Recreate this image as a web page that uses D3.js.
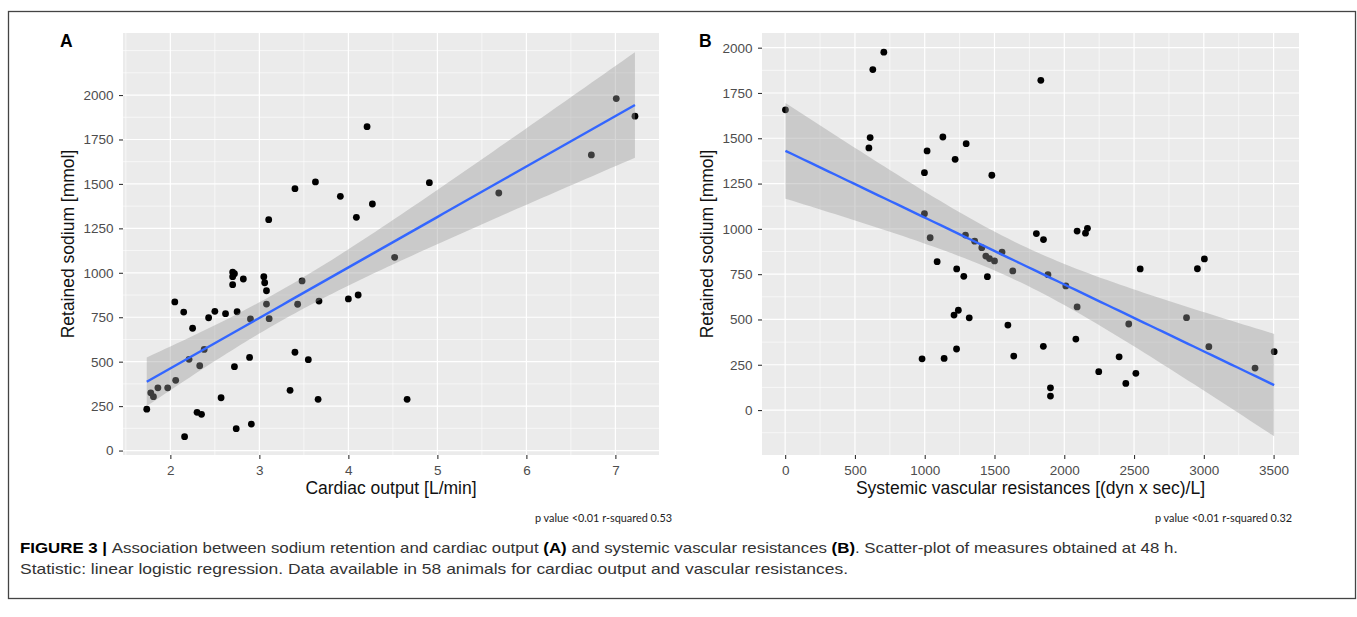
<!DOCTYPE html>
<html>
<head>
<meta charset="utf-8">
<script src="https://cdn.jsdelivr.net/npm/d3@7"></script>
<style>
  body { margin: 0; background: #fff; }
  text { font-family: "Liberation Sans", Arial, sans-serif; }
</style>
</head>
<body>
<div id="drawing"></div>
<script>
// panel A: cardiac output [L/min] vs retained sodium [mmol]
var coOutput = [1.735, 1.78, 1.81, 1.86, 1.97, 2.05, 2.06, 2.15, 2.16, 2.21,
  2.25, 2.30, 2.33, 2.35, 2.38, 2.43, 2.50, 2.57, 2.62, 2.70,
  2.70, 2.70, 2.72, 2.72, 2.74, 2.75, 2.82, 2.89, 2.90, 2.91,
  3.05, 3.06, 3.08, 3.08, 3.105, 3.11, 3.345, 3.40, 3.40, 3.43,
  3.48, 3.55, 3.63, 3.66, 3.67, 3.91, 4.00, 4.09, 4.11, 4.21,
  4.27, 4.52, 4.66, 4.91, 5.69, 6.73, 7.01, 7.22];
var coSodium = [233, 325, 303, 353, 353, 836, 395, 779, 78, 513,
  688, 215, 477, 204, 569, 747, 783, 297, 770, 1004,
  978, 933, 995, 472, 123, 781, 965, 524, 740, 149,
  978, 944, 899, 824, 1299, 742, 339, 553, 1473, 823,
  954, 511, 1511, 288, 841, 1430, 853, 1312, 875, 1822,
  1387, 1087, 288, 1507, 1449, 1663, 1980, 1881];

// panel B: systemic vascular resistances vs retained sodium
var svrValues = [2, 600, 609, 628, 707, 981, 998, 998, 1017, 1039,
  1089, 1130, 1139, 1210, 1218, 1228, 1229, 1241, 1280, 1292,
  1297, 1319, 1358, 1409, 1438, 1449, 1464, 1481, 1500, 1554,
  1596, 1631, 1638, 1800, 1832, 1850, 1851, 1883, 1901, 1901,
  2011, 2083, 2092, 2092, 2152, 2166, 2247, 2393, 2441, 2462,
  2513, 2544, 2876, 2954, 3004, 3036, 3367, 3504];
var svrSodium = [1657, 1447, 1504, 1879, 1975, 283, 1310, 1084, 1430, 951,
  819, 1507, 285, 524, 1384, 337, 779, 551, 738, 966,
  1470, 509, 932, 896, 850, 736, 836, 1296, 823, 872,
  469, 768, 298, 974, 1820, 352, 941, 747, 123, 77,
  685, 392, 569, 988, 976, 1003, 212, 294, 147, 475,
  203, 779, 510, 780, 834, 350, 232, 322];

// tick labels
var sodiumTicks = [0, 250, 500, 750, 1000, 1250, 1500, 1750, 2000];
var coTicks = [2, 3, 4, 5, 6, 7];
var svrTicks = [0, 500, 1000, 1500, 2000, 2500, 3000, 3500];
var coMinor = [1.5, 2.5, 3.5, 4.5, 5.5, 6.5];
var svrMinor = [250, 750, 1250, 1750, 2250, 2750, 3250];
var sodiumMinorA = [125, 375, 625, 875, 1125, 1375, 1625, 1875, 2125, 2250];
var sodiumMinorB = [-125, 125, 375, 625, 875, 1125, 1375, 1625, 1875];

var width = 1357;
var height = 617;
var drawing;

function setup() {
  drawing = d3.select("#drawing").append("svg")
    .attr("width", width)
    .attr("height", height)
    .style("display", "block")
    .style("background", "#fff");

  // figure frame
  drawing.append("rect")
    .attr("x", 8.5).attr("y", 11.5)
    .attr("width", 1347).attr("height", 587)
    .style("fill", "none")
    .style("stroke", "#444")
    .style("stroke-width", 1.3);
}

// lm fit with 95% band, like geom_smooth(method = "lm")
function lmBand(xs, ys) {
  var n = xs.length;
  var mx = d3.mean(xs), my = d3.mean(ys);
  var sxx = d3.sum(xs, (x) => (x - mx) * (x - mx));
  var sxy = d3.sum(xs, (x, i) => (x - mx) * (ys[i] - my));
  var b = sxy / sxx, a = my - b * mx;
  var rss = d3.sum(xs, (x, i) => Math.pow(ys[i] - (a + b * x), 2));
  var s = Math.sqrt(rss / (n - 2));
  var t = 2.004;
  var ext = d3.extent(xs);
  return d3.range(80).map(function(i) {
    var x = ext[0] + (ext[1] - ext[0]) * i / 79;
    var fit = a + b * x;
    var se = s * Math.sqrt(1 / n + (x - mx) * (x - mx) / sxx);
    return { x: x, y: fit, lo: fit - t * se, hi: fit + t * se };
  });
}

function panel(opt) {
  var xScale = d3.scaleLinear().domain(opt.xDomain).range([opt.left, opt.right]);
  var yScale = d3.scaleLinear().domain(opt.yDomain).range([455, 33]);
  var g = drawing.append("g");

  g.append("rect")
    .attr("x", opt.left).attr("y", 33)
    .attr("width", opt.right - opt.left).attr("height", 422)
    .style("fill", "#EBEBEB");

  // grid
  g.selectAll(".minorX").data(opt.xMinor).enter().append("line")
    .attr("x1", (d) => xScale(d)).attr("x2", (d) => xScale(d))
    .attr("y1", 33).attr("y2", 455)
    .style("stroke", "#fff").style("stroke-width", 0.6);
  g.selectAll(".minorY").data(opt.yMinor).enter().append("line")
    .attr("y1", (d) => yScale(d)).attr("y2", (d) => yScale(d))
    .attr("x1", opt.left).attr("x2", opt.right)
    .style("stroke", "#fff").style("stroke-width", 0.6);
  g.selectAll(".majorX").data(opt.xTicks).enter().append("line")
    .attr("x1", (d) => xScale(d)).attr("x2", (d) => xScale(d))
    .attr("y1", 33).attr("y2", 455)
    .style("stroke", "#fff").style("stroke-width", 1.2);
  g.selectAll(".majorY").data(sodiumTicks).enter().append("line")
    .attr("y1", (d) => yScale(d)).attr("y2", (d) => yScale(d))
    .attr("x1", opt.left).attr("x2", opt.right)
    .style("stroke", "#fff").style("stroke-width", 1.2);

  // points
  g.selectAll(".pt").data(opt.xs).enter().append("circle")
    .attr("cx", (d) => xScale(d))
    .attr("cy", (d, i) => yScale(opt.ys[i]))
    .attr("r", 3.4)
    .style("fill", "#000");

  // smooth
  var band = lmBand(opt.xs, opt.ys);
  g.append("path")
    .attr("d", d3.area().x((d) => xScale(d.x)).y0((d) => yScale(d.lo)).y1((d) => yScale(d.hi))(band))
    .style("fill", "#999").style("opacity", 0.4);
  g.append("path")
    .attr("d", d3.line().x((d) => xScale(d.x)).y((d) => yScale(d.y))(band))
    .style("fill", "none").style("stroke", "#3366FF").style("stroke-width", 2.4);

  // axes
  var xAxis = g.append("g").attr("transform", "translate(0,455)")
    .call(d3.axisBottom(xScale).tickValues(opt.xTicks).tickSize(4).tickPadding(6).tickFormat(d3.format("d")));
  var yAxis = g.append("g").attr("transform", `translate(${opt.left},0)`)
    .call(d3.axisLeft(yScale).tickValues(sodiumTicks).tickSize(4).tickPadding(5.5).tickFormat(d3.format("d")));
  [xAxis, yAxis].forEach(function(ax) {
    ax.select(".domain").remove();
    ax.selectAll("line").style("stroke", "#333").style("stroke-width", 1.1);
    ax.selectAll("text").style("fill", "#4D4D4D").style("font-size", "13.5px")
      .style("font-family", "'Liberation Sans', Arial, sans-serif");
  });

  // titles
  g.append("text")
    .attr("x", (opt.left + opt.right) / 2).attr("y", 494)
    .attr("text-anchor", "middle")
    .style("font-size", "17.5px").style("fill", "#111")
    .text(opt.xTitle);
  g.append("text")
    .attr("transform", `translate(${opt.yTitleX},244) rotate(-90)`)
    .attr("text-anchor", "middle")
    .style("font-size", "17.5px").style("fill", "#111")
    .text("Retained sodium [mmol]");
  g.append("text")
    .attr("x", opt.labelX).attr("y", 47)
    .style("font-size", "17.5px").style("font-weight", "bold")
    .text(opt.label);
  g.append("text")
    .attr("x", opt.pRight).attr("y", 522)
    .attr("text-anchor", "end")
    .attr("textLength", 137).attr("lengthAdjust", "spacingAndGlyphs")
    .style("font-size", "12px").style("fill", "#222")
    .style("font-family", "Lato, 'Open Sans', sans-serif")
    .text(opt.pText);
}

function make() {
  panel({
    left: 123, right: 659,
    xDomain: [1.468, 7.49], yDomain: [-25, 2349],
    xTicks: coTicks, xMinor: coMinor, yMinor: sodiumMinorA,
    xs: coOutput, ys: coSodium,
    xTitle: "Cardiac output [L/min]", yTitleX: 74,
    label: "A", labelX: 60,
    pRight: 672, pText: "p value <0.01 r-squared 0.53"
  });
  panel({
    left: 762, right: 1299,
    xDomain: [-166, 3682], yDomain: [-248, 2081],
    xTicks: svrTicks, xMinor: svrMinor, yMinor: sodiumMinorB,
    xs: svrValues, ys: svrSodium,
    xTitle: "Systemic vascular resistances [(dyn x sec)/L]", yTitleX: 713,
    label: "B", labelX: 699,
    pRight: 1292, pText: "p value <0.01 r-squared 0.32"
  });

  // caption
  var cap1 = drawing.append("text")
    .attr("x", 20).attr("y", 553)
    .attr("textLength", 1158).attr("lengthAdjust", "spacingAndGlyphs")
    .style("font-size", "15px").style("fill", "#333");
  cap1.append("tspan").style("font-weight", "bold").style("fill", "#000").text("FIGURE 3 | ");
  cap1.append("tspan").text("Association between sodium retention and cardiac output ");
  cap1.append("tspan").style("font-weight", "bold").style("fill", "#000").text("(A)");
  cap1.append("tspan").text(" and systemic vascular resistances ");
  cap1.append("tspan").style("font-weight", "bold").style("fill", "#000").text("(B)");
  cap1.append("tspan").text(". Scatter-plot of measures obtained at 48 h.");

  drawing.append("text")
    .attr("x", 20).attr("y", 574)
    .attr("textLength", 828).attr("lengthAdjust", "spacingAndGlyphs")
    .style("font-size", "15px").style("fill", "#333")
    .text("Statistic: linear logistic regression. Data available in 58 animals for cardiac output and vascular resistances.");
}

setup();
make();
</script>
</body>
</html>
